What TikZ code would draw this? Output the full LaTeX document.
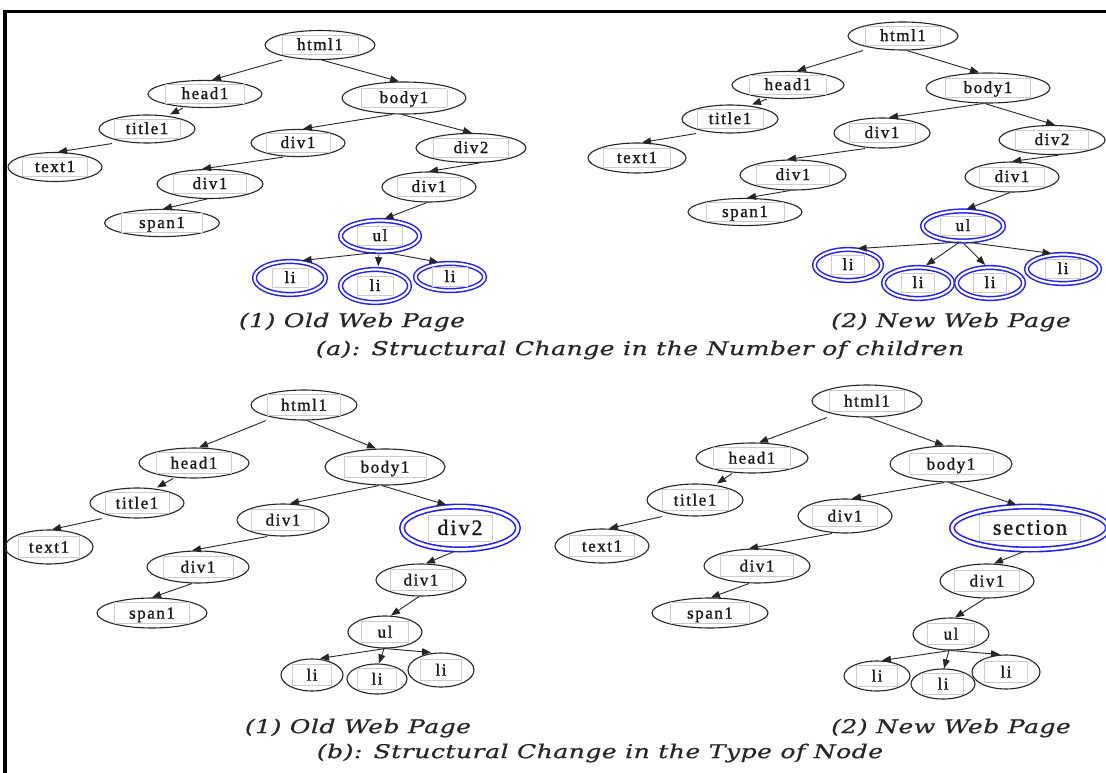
\documentclass[tikz,border=0pt]{standalone}
\usepackage{fontspec}
\setmainfont{Liberation Serif}
\newfontfamily\lblfont{Liberation Serif}[LetterSpace=9.0,FakeBold=1.2]
\newfontfamily\capfont{DejaVu Serif}[FakeStretch=1.32,LetterSpace=2.5,FakeBold=0.6]
\usetikzlibrary{shapes.geometric,arrows.meta}
\definecolor{boxgray}{gray}{0.8}
\definecolor{hlblue}{RGB}{35,35,240}
\newcommand\lbl[3][18]{{\setlength\fboxsep{0pt}\setlength\fboxrule{0.6pt}\fcolorbox{boxgray}{white}{\makebox[#2pt]{\rule[\dimexpr-#1pt*22/100\relax]{0pt}{#1pt}#3}}}}
\newcommand\nd[7][]{\node[tn,#1,minimum width={2*#5},minimum height={2*#6}] (#2) at (#3,#4) {#7};}
\newcommand\ed[5][]{\draw[edge,#1] ([xshift=#3pt]#2.south) -- ([xshift=#5pt]#4.north);}
\tikzset{
  tn/.style={ellipse, draw=black!85, line width=1.1pt, inner sep=0pt,
    font=\lblfont\fontsize{17}{17}\selectfont, text=black!90},
  dbl/.style={draw=hlblue, double=white, line width=1.5pt, double distance=2.2pt},
  edge/.style={draw=black!85, line width=0.9pt, -{Triangle[length=9pt,width=7pt]}},
  sh>/.style={shorten >=2.6pt},
  sh</.style={shorten <=2.6pt},
  both/.style={shorten >=2.6pt, shorten <=2.6pt},
  capt/.style={font=\capfont\itshape\fontsize{19}{19}\selectfont, text=black!85, inner sep=0pt},
  frame/.style={line width=3.5pt, black}
}
\begin{document}
\begin{tikzpicture}[x=1pt,y=-1pt]
\useasboundingbox (0,0) rectangle (1106,773);
\fill[white] (0,0) rectangle (1106,773);
\draw[frame] (5,773) -- (5,11.5) -- (1106,11.5);

% ---------- (a) (1) Old Web Page
\nd{ahtml}{320}{45}{55}{14.5}{\lbl{75}{html1}}
\nd{ahead}{205}{94}{57}{13}{\lbl{78}{head1}}
\nd{abody}{404}{98}{62}{16}{\lbl{85}{body1}}
\nd{atitle}{147}{129}{48}{14}{\lbl{65}{title1}}
\nd{adiva}{298}{143}{47}{13}{\lbl{63}{div1}}
\nd{adivb}{471}{148}{55}{14.5}{\lbl{74}{div2}}
\nd{atext}{55}{167}{47}{14.5}{\lbl{65}{text1}}
\nd{adivc}{210}{184}{53}{14.5}{\lbl{72}{div1}}
\nd{adivd}{429}{187}{47}{15}{\lbl{62}{div1}}
\nd{aspan}{162}{223}{57}{12}{\lbl{80}{span1}}
\nd[dbl]{aul}{380}{236}{39.5}{15.5}{\lbl{44}{ul}}
\nd[dbl]{ali1}{290}{278}{35.5}{16.5}{\lbl{35}{li}}
\nd[dbl]{ali2}{375}{286}{34.5}{16.5}{\lbl{35}{li}}
\nd[dbl]{ali3}{450}{277}{34.5}{13.5}{\lbl{35}{li}}

\ed{ahtml}{-38}{ahead}{7}
\ed{ahtml}{2}{abody}{-5}
\ed{ahead}{-22}{atitle}{23}
\ed{atitle}{-35}{atext}{3}
\ed{abody}{-12}{adiva}{5}
\ed{abody}{-2}{adivb}{1}
\ed{adiva}{-15}{adivc}{-8}
\ed{adivc}{-3}{aspan}{1}
\ed{adivb}{8}{adivd}{0}
\ed[sh>]{adivd}{-2}{aul}{2}
\ed[both]{aul}{-2}{ali1}{10}
\ed[both]{aul}{-1}{ali2}{3}
\ed[both]{aul}{5}{ali3}{-9}

% ---------- (a) (2) New Web Page
\nd{bhtml}{903}{36}{55}{14}{\lbl{74}{html1}}
\nd{bhead}{788}{85}{56}{13}{\lbl{76}{head1}}
\nd{bbody}{988}{88}{62}{15}{\lbl{84}{body1}}
\nd{btitle}{730}{119}{48}{14}{\lbl{65}{title1}}
\nd{bdiva}{882}{133}{48}{15}{\lbl{65}{div1}}
\nd{bdivb}{1052}{140}{53}{14.5}{\lbl{72}{div2}}
\nd{btext}{637}{158}{49}{15}{\lbl{66}{text1}}
\nd{bdivc}{793}{175}{53}{15}{\lbl{72}{div1}}
\nd{bdivd}{1012}{177}{47}{15}{\lbl{64}{div1}}
\nd{bspan}{745}{212}{57}{12.5}{\lbl{77}{span1}}
\nd[dbl]{bul}{963}{226}{40.5}{15}{\lbl{44}{ul}}
\nd[dbl]{bli1}{848}{265}{33.5}{15.5}{\lbl{32}{li}}
\nd[dbl]{bli2}{918}{283}{34.5}{15.5}{\lbl{32}{li}}
\nd[dbl]{bli3}{990}{283}{33.5}{15.5}{\lbl{32}{li}}
\nd[dbl]{bli4}{1063}{269}{36.5}{14.5}{\lbl{34}{li}}

\ed{bhtml}{-40}{bhead}{9}
\ed{bhtml}{4}{bbody}{-9}
\ed{bhead}{-21}{btitle}{22}
\ed{btitle}{-34}{btext}{5}
\ed{bbody}{-5}{bdiva}{7}
\ed{bbody}{-3}{bdivb}{3}
\ed{bdiva}{-17}{bdivc}{-6}
\ed{bdivc}{-3}{bspan}{2}
\ed{bdivb}{7}{bdivd}{0}
\ed[sh>]{bdivd}{-2}{bul}{1}
\ed[both]{bul}{1}{bli1}{7}
\ed[both]{bul}{-3}{bli2}{6}
\ed[both]{bul}{-1}{bli3}{-3}
\ed[both]{bul}{1}{bli4}{-9}

% ---------- (b) (1) Old Web Page
\nd{chtml}{304}{405}{53}{15}{\lbl[20]{72}{html1}}
\nd{chead}{194}{463}{55}{14.5}{\lbl[20]{74}{head1}}
\nd{cbody}{385}{467}{60}{18}{\lbl[20]{81}{body1}}
\nd{ctitle}{137}{503}{47}{15}{\lbl[20]{63}{title1}}
\nd{cdiva}{283}{520}{46}{16}{\lbl[20]{62}{div1}}
\nd[dbl,line width=1.6pt,double distance=2.8pt]{cdivb}{460}{528}{58}{21.5}{\lbl[25]{63}{\fontsize{22}{22}\selectfont div2}}
\nd{ctext}{49}{547}{44}{17}{\lbl[20]{60}{text1}}
\nd{cdivc}{198}{567}{51}{16}{\lbl[20]{69}{div1}}
\nd{cdivd}{421}{580}{45}{16}{\lbl[20]{61}{div1}}
\nd{cspan}{152}{613}{55}{15}{\lbl[20]{74}{span1}}
\nd{cul}{385}{632}{37}{16}{\lbl[20]{46}{ul}}
\nd{cli1}{312}{675}{31}{16}{\lbl[20]{38}{li}}
\nd{cli2}{377}{679}{30}{15}{\lbl[20]{38}{li}}
\nd{cli3}{441}{670}{33}{17}{\lbl[20]{40}{li}}

\ed{chtml}{-38}{chead}{5}
\ed{chtml}{3}{cbody}{-9}
\ed{chead}{-21}{ctitle}{20}
\ed{ctitle}{-35}{ctext}{3}
\ed{cbody}{-6}{cdiva}{7}
\ed[sh>]{cbody}{-3}{cdivb}{-11}
\ed{cdiva}{-16}{cdivc}{-6}
\ed{cdivc}{-6}{cspan}{0}
\ed[sh<]{cdivb}{-3}{cdivd}{5}
\ed{cdivd}{-2}{cul}{6}
\ed{cul}{0}{cli1}{8}
\ed{cul}{-1}{cli2}{2}
\ed{cul}{0}{cli3}{-10}

% ---------- (b) (2) New Web Page
\nd{dhtml}{867}{401}{55}{16}{\lbl[20]{74}{html1}}
\nd{dhead}{752}{458}{56}{15}{\lbl[20]{76}{head1}}
\nd{dbody}{951}{464}{61}{18}{\lbl[20]{83}{body1}}
\nd{dtitle}{695}{500}{48}{16}{\lbl[20]{65}{title1}}
\nd{ddiva}{845}{516}{47}{17}{\lbl[20]{64}{div1}}
\nd[dbl,line width=1.6pt,double distance=2.8pt]{dsec}{1030}{528}{78}{21.5}{\lbl[24]{100}{\fontsize{22}{22}\selectfont section}}
\nd{dtext}{602}{546}{47}{17}{\lbl[20]{64}{text1}}
\nd{ddivc}{757}{566}{53}{17}{\lbl[20]{72}{div1}}
\nd{ddivd}{987}{581}{47}{17}{\lbl[20]{64}{div1}}
\nd{dspan}{710}{613}{58}{14.5}{\lbl[20]{78}{span1}}
\nd{dul}{951}{634}{38}{16}{\lbl[20]{46}{ul}}
\nd{dli1}{877}{676}{33}{15}{\lbl[20]{40}{li}}
\nd{dli2}{943}{684}{32}{15}{\lbl[20]{40}{li}}
\nd{dli3}{1006}{672}{34}{17}{\lbl[20]{42}{li}}

\ed{dhtml}{-40}{dhead}{7}
\ed{dhtml}{2}{dbody}{-7}
\ed{dhead}{-20}{dtitle}{22}
\ed{dtitle}{-33}{dtext}{7}
\ed{dbody}{-7}{ddiva}{7}
\ed[sh>]{dbody}{-2}{dsec}{-11}
\ed{ddiva}{-13}{ddivc}{-8}
\ed{ddivc}{-8}{dspan}{1}
\ed[sh<]{dsec}{-3}{ddivd}{7}
\ed{ddivd}{-2}{dul}{4}
\ed{dul}{-1}{dli1}{5}
\ed{dul}{-2}{dli2}{1}
\ed{dul}{0}{dli3}{-6}

% ---------- captions
\node[capt] (capa1) at (352,322) {(1) Old Web Page};
\node[capt] (capa2) at (951,322) {(2) New Web Page};
\node[capt] (capa) at (640,350) {(a): Structural Change in the Number of children};
\node[capt] (capb1) at (358,728) {(1) Old Web Page};
\node[capt] (capb2) at (951,728) {(2) New Web Page};
\node[capt] (capb) at (600,753) {(b): Structural Change in the Type of Node};
\end{tikzpicture}
\end{document}
